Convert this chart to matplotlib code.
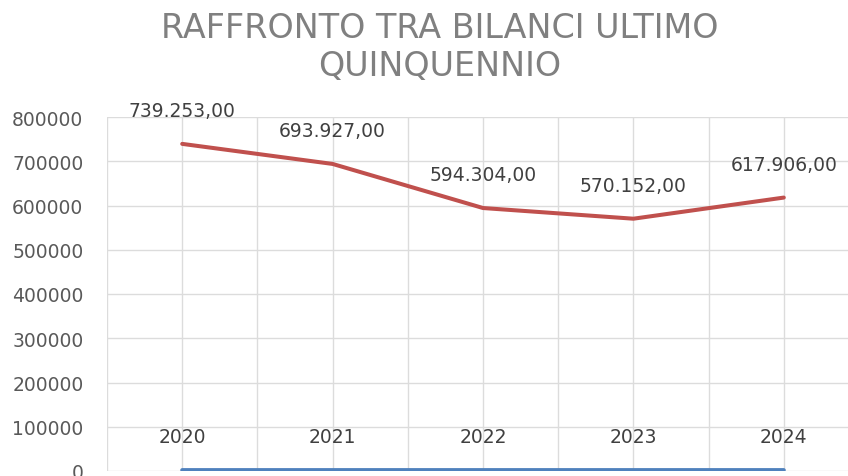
import numpy as np
import matplotlib
matplotlib.use("Agg")
from matplotlib import pyplot as plt

anni = ["2020", "2021", "2022", "2023", "2024"]
anni_valori = [2020, 2021, 2022, 2023, 2024]
bilanci = [739253.00, 693927.00, 594304.00, 570152.00, 617906.00]
y_ticks = [0, 100000, 200000, 300000, 400000, 500000, 600000, 700000, 800000]

plt.rcParams['font.family'] = ['DejaVu Sans']

def fmt_it(v):
    s = f"{v:,.2f}"
    return s.replace(",", "X").replace(".", ",").replace("X", ".")

fig = plt.figure(figsize=(8.48, 4.77), dpi=100)
ax = fig.add_axes([107 / 848, 5 / 477, 752 / 848, 354 / 477])

x = np.arange(len(anni))
ax.plot(x, anni_valori, color="#4F81BD", lw=2.9, solid_capstyle="round", zorder=3)
ax.plot(x, bilanci, color="#C0504D", lw=2.9, solid_capstyle="round", zorder=3)

for xi, v in zip(x, bilanci):
    ax.annotate(fmt_it(v), (xi, v), xytext=(0, 24), textcoords="offset points",
                ha="center", va="center", fontsize=13.5, color="#404040")
for xi, v, lab in zip(x, anni_valori, anni):
    ax.annotate(lab, (xi, v), xytext=(0, 24), textcoords="offset points",
                ha="center", va="center", fontsize=13.5, color="#404040")

ax.set_xlim(-0.5, 4.5)
ax.set_ylim(0, 800000)
ax.set_yticks(y_ticks)
ax.set_yticklabels([str(t) for t in y_ticks], fontsize=13.5, color="#595959")
ax.set_xticks(np.arange(-0.5, 5.0, 0.5))
ax.set_xticklabels([])
ax.tick_params(axis="both", length=0)
ax.tick_params(axis="y", pad=17)
ax.grid(True, color="#DCDCDC", lw=1.0, zorder=0)
for s in ax.spines.values():
    s.set_visible(False)

fig.text(440 / 848, 1 - 47.5 / 477, "RAFFRONTO TRA BILANCI ULTIMO\nQUINQUENNIO",
         ha="center", va="center", fontsize=24, color="#808080", linespacing=1.22)

fig.savefig("out.png", dpi=100)
